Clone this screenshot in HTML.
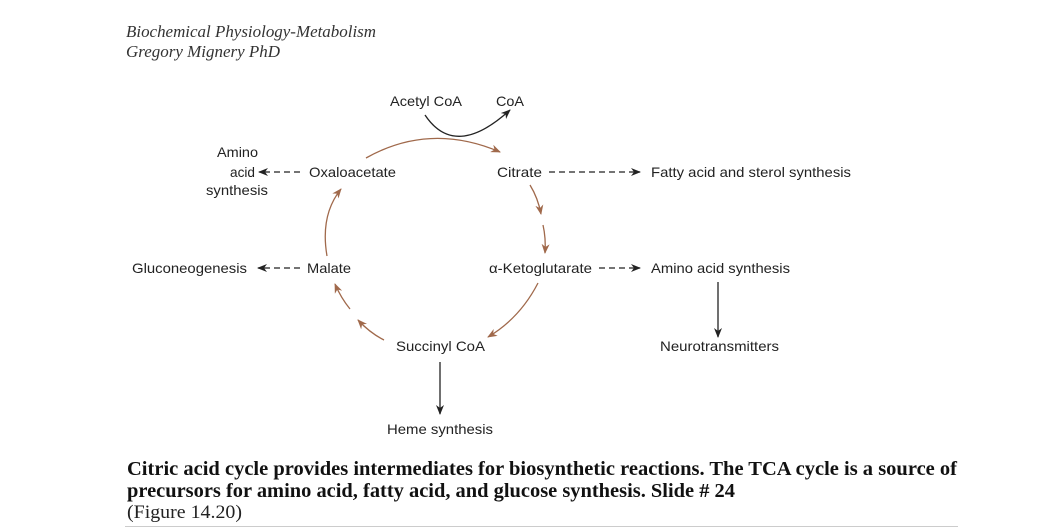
<!DOCTYPE html>
<html><head><style>
body{margin:0;background:#fff;width:1039px;height:528px;overflow:hidden}
svg{display:block}
.s{font-family:"Liberation Sans",sans-serif;font-size:14px;fill:#222}
.h{font-family:"Liberation Serif",serif;font-style:italic;font-size:17px;fill:#333}
.c{font-family:"Liberation Serif",serif;font-weight:bold;font-size:20px;fill:#111}
</style></head><body>
<svg width="1039" height="528" viewBox="0 0 1039 528">
<defs>
<marker id="b" markerWidth="10" markerHeight="8" refX="9" refY="4" orient="auto" markerUnits="userSpaceOnUse"><path d="M0,0L10,4L0,8L3,4z" fill="#a0694b"/></marker>
<marker id="k" markerWidth="10" markerHeight="8" refX="9" refY="4" orient="auto" markerUnits="userSpaceOnUse"><path d="M0,0L10,4L0,8L3,4z" fill="#222"/></marker>
</defs>
<text class="h" x="126" y="37" textLength="250" lengthAdjust="spacingAndGlyphs">Biochemical Physiology-Metabolism</text>
<text class="h" x="126" y="57" textLength="154" lengthAdjust="spacingAndGlyphs">Gregory Mignery PhD</text>

<g class="s">
<text x="390" y="106" textLength="72" lengthAdjust="spacingAndGlyphs">Acetyl CoA</text>
<text x="496" y="106" textLength="28" lengthAdjust="spacingAndGlyphs">CoA</text>
<text x="217" y="157" textLength="41" lengthAdjust="spacingAndGlyphs">Amino</text>
<text x="230" y="177" textLength="25" lengthAdjust="spacingAndGlyphs">acid</text>
<text x="206" y="195" textLength="62" lengthAdjust="spacingAndGlyphs">synthesis</text>
<text x="309" y="177" textLength="87" lengthAdjust="spacingAndGlyphs">Oxaloacetate</text>
<text x="497" y="177" textLength="45" lengthAdjust="spacingAndGlyphs">Citrate</text>
<text x="651" y="177" textLength="200" lengthAdjust="spacingAndGlyphs">Fatty acid and sterol synthesis</text>
<text x="132" y="273" textLength="115" lengthAdjust="spacingAndGlyphs">Gluconeogenesis</text>
<text x="307" y="273" textLength="44" lengthAdjust="spacingAndGlyphs">Malate</text>
<text x="489" y="273" textLength="103" lengthAdjust="spacingAndGlyphs">α-Ketoglutarate</text>
<text x="651" y="273" textLength="139" lengthAdjust="spacingAndGlyphs">Amino acid synthesis</text>
<text x="660" y="351" textLength="119" lengthAdjust="spacingAndGlyphs">Neurotransmitters</text>
<text x="396" y="351" textLength="89" lengthAdjust="spacingAndGlyphs">Succinyl CoA</text>
<text x="387" y="434" textLength="106" lengthAdjust="spacingAndGlyphs">Heme synthesis</text>
</g>

<g fill="none" stroke="#a0694b" stroke-width="1.3">
<path d="M366,158 Q430,122 500,152" marker-end="url(#b)"/>
<path d="M530,185 Q538,198 541,214" marker-end="url(#b)"/>
<path d="M543,225 Q546,238 545,253" marker-end="url(#b)"/>
<path d="M538,283 Q520,318 488,337" marker-end="url(#b)"/>
<path d="M384,340 Q370,333 358,320" marker-end="url(#b)"/>
<path d="M350,309 Q341,298 335,284" marker-end="url(#b)"/>
<path d="M327,256 Q320,215 341,189" marker-end="url(#b)"/>
</g>
<g fill="none" stroke="#222" stroke-width="1.3">
<path d="M425,115 Q455,160 510,110" marker-end="url(#k)"/>
<path d="M300,172 L259,172" stroke-dasharray="6,4" marker-end="url(#k)"/>
<path d="M300,268 L258,268" stroke-dasharray="6,4" marker-end="url(#k)"/>
<path d="M549,172 L640,172" stroke-dasharray="6,4" marker-end="url(#k)"/>
<path d="M599,268 L640,268" stroke-dasharray="6,4" marker-end="url(#k)"/>
<path d="M718,282 L718,337" marker-end="url(#k)"/>
<path d="M440,362 L440,414" marker-end="url(#k)"/>
</g>

<text class="c" x="127" y="475" textLength="830" lengthAdjust="spacingAndGlyphs">Citric acid cycle provides intermediates for biosynthetic reactions. The TCA cycle is a source of</text>
<text class="c" x="127" y="497" textLength="608" lengthAdjust="spacingAndGlyphs">precursors for amino acid, fatty acid, and glucose synthesis. Slide # 24</text>
<text x="127" y="518" style="font-family:'Liberation Serif',serif;font-size:19px;fill:#222" textLength="115" lengthAdjust="spacingAndGlyphs">(Figure 14.20)</text>
<line x1="125" y1="526.5" x2="958" y2="526.5" stroke="#ccc" stroke-width="1"/>
</svg>
</body></html>
